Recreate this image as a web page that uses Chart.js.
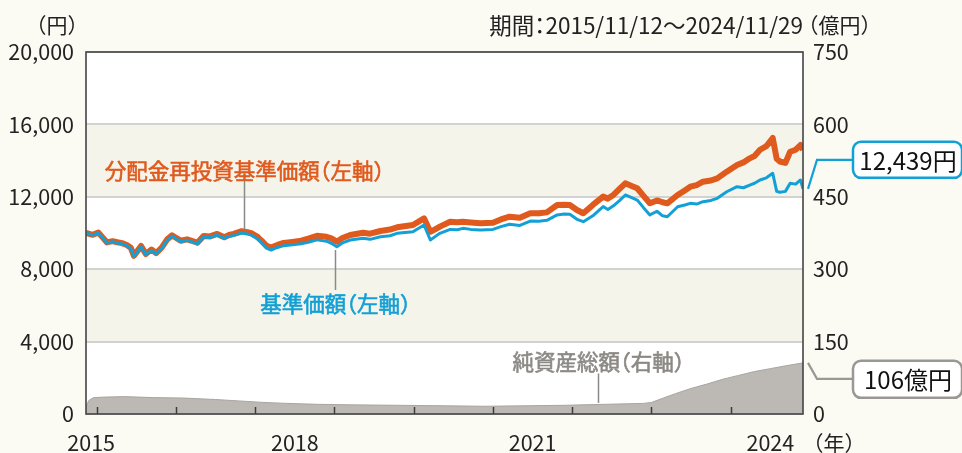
<!DOCTYPE html>
<html>
<head>
<meta charset="utf-8">
<script src="https://cdn.jsdelivr.net/npm/chart.js@4.4.1/dist/chart.umd.min.js"></script>
<style>
  html, body { margin:0; padding:0; background:#fbfaf3; }
  #wrap { width:962px; height:453px; }
</style>
</head>
<body>
<div id="wrap"><canvas id="chart" width="962" height="453"></canvas></div>
<script>
/* ---------- data ---------- */
const dates = [
  2015.865, 2015.95, 2016.02, 2016.08, 2016.13, 2016.20, 2016.26, 2016.32, 2016.38, 2016.43,
  2016.47, 2016.52, 2016.56, 2016.62, 2016.69, 2016.75, 2016.82, 2016.89, 2016.95, 2017.00,
  2017.06, 2017.14, 2017.20, 2017.27, 2017.35, 2017.43, 2017.52, 2017.61, 2017.67, 2017.73,
  2017.83, 2017.90, 2017.95, 2018.02, 2018.08, 2018.14, 2018.20, 2018.28, 2018.36, 2018.47,
  2018.58, 2018.68, 2018.78, 2018.90, 2018.96, 2019.03, 2019.10, 2019.20, 2019.36, 2019.45,
  2019.58, 2019.70, 2019.79, 2019.99, 2020.13, 2020.21, 2020.27, 2020.33, 2020.46, 2020.55,
  2020.62, 2020.72, 2020.84, 2021.00, 2021.10, 2021.21, 2021.34, 2021.47, 2021.58, 2021.68,
  2021.81, 2021.90, 2021.97, 2022.06, 2022.14, 2022.26, 2022.39, 2022.45, 2022.52, 2022.60,
  2022.67, 2022.75, 2022.82, 2022.90, 2022.98, 2023.07, 2023.14, 2023.20, 2023.33, 2023.42,
  2023.49, 2023.57, 2023.65, 2023.75, 2023.83, 2023.95, 2024.08, 2024.16, 2024.24, 2024.30,
  2024.37, 2024.45, 2024.53, 2024.58, 2024.62, 2024.69, 2024.75, 2024.82, 2024.88, 2024.912
];
// 基準価額（円）
const nav = [
  10000, 9880, 10000, 9700, 9450, 9520, 9450, 9400, 9300, 9150,
  8700, 9000, 9240, 8800, 9050, 8850, 9150, 9610, 9830, 9700,
  9520, 9600, 9520, 9400, 9780, 9750, 9890, 9700, 9820, 9870,
  10000, 9950, 9880, 9700, 9450, 9170, 9060, 9200, 9300, 9350,
  9400, 9500, 9620, 9550, 9430, 9245, 9450, 9613, 9706, 9650,
  9797, 9850, 9983, 10070, 10440, 9613, 9800, 9983, 10200, 10180,
  10257, 10200, 10166, 10200, 10350, 10480, 10420, 10660, 10650, 10700,
  11000, 11050, 11030, 10757, 10625, 10950, 11460, 11300, 11500, 11800,
  12100, 11950, 11820, 11400, 11000, 11200, 10950, 10900, 11450, 11550,
  11640, 11600, 11730, 11800, 11915, 12280, 12560, 12500, 12650, 12750,
  12930, 13050, 13300, 12300, 12250, 12300, 12745, 12700, 12930, 12439
];
// 分配金再投資基準価額（円）
const navReinv = [
  10000, 9900, 10030, 9730, 9480, 9550, 9490, 9440, 9340, 9190,
  8740, 9040, 9280, 8840, 9090, 8890, 9190, 9650, 9870, 9740,
  9570, 9650, 9570, 9460, 9840, 9810, 9950, 9770, 9890, 9950,
  10100, 10050, 9990, 9820, 9580, 9300, 9200, 9340, 9450, 9510,
  9580, 9700, 9850, 9790, 9706, 9520, 9720, 9890, 10017, 9960,
  10110, 10190, 10315, 10440, 10810, 10070, 10200, 10350, 10625, 10600,
  10625, 10580, 10534, 10560, 10750, 10900, 10840, 11090, 11090, 11140,
  11550, 11560, 11550, 11270, 11090, 11550, 12010, 11900, 12100, 12450,
  12745, 12600, 12470, 12050, 11640, 11800, 11700, 11640, 12100, 12350,
  12560, 12650, 12835, 12900, 13020, 13390, 13760, 13900, 14125, 14250,
  14600, 14800, 15250, 14100, 13950, 13870, 14490, 14600, 14860, 14600
];
// 純資産総額（億円）
const assetDates = [
  2015.865, 2015.90, 2015.96, 2016.10, 2016.35, 2016.70, 2017.10, 2017.50, 2017.80, 2018.10,
  2018.40, 2018.80, 2019.20, 2019.80, 2020.40, 2020.90, 2021.40, 2021.90, 2022.40, 2022.90,
  2023.00, 2023.15, 2023.30, 2023.50, 2023.70, 2023.90, 2024.10, 2024.30, 2024.50, 2024.70, 2024.912
];
const netAssets = [
  15, 28, 34, 35, 36, 34, 33, 30, 27, 24,
  22, 20, 19, 18, 17, 16, 17, 18, 20, 22,
  24, 33, 42, 53, 62, 72, 80, 88, 94, 100, 106
];

const yearTicks   = [2016, 2017, 2018, 2019, 2020, 2021, 2022, 2023, 2024];
const yearLabels  = ['2015', '2018', '2021', '2024'];
const yearLabelAt = [2015.93, 2018.5, 2021.5, 2024.5];

const periodText  = '期間：2015/11/12～2024/11/29';
const lastNavText = '12,439円';
const lastAsset   = 106;
const lastAsText  = '106億円';

/* ---------- colours ---------- */
const ORANGE = '#e05a1e';
const BLUE   = '#13a0d6';
const GRAYTX = '#8c8985';
const INK    = '#222';
const FONT   = '"Noto Sans CJK JP", "Noto Sans", sans-serif';

// palt風：括弧・コロンを半角幅で詰める
function jp(ctx, s, x, y, align, heavy) {
  const parts = [];
  let run = '';
  for (const ch of s) {
    if ('（）：'.includes(ch)) {
      if (run) parts.push({t: run});
      run = '';
      parts.push({t: ch, half: true});
    } else run += ch;
  }
  if (run) parts.push({t: run});
  let total = 0;
  parts.forEach(p => {
    p.w = ctx.measureText(p.t).width;
    p.adv = p.half ? p.w / 2 : p.w;
    total += p.adv;
  });
  let cx = align === 'right' ? x - total : align === 'center' ? x - total / 2 : x;
  ctx.textAlign = 'left';
  ctx.textBaseline = 'middle';
  parts.forEach(p => {
    let off = 0;
    if (p.t === '（') off = -p.w / 2;
    else if (p.t === '：') off = -p.w / 4;
    ctx.fillText(p.t, cx + off, y);
    if (heavy) ctx.strokeText(p.t, cx + off, y);
    cx += p.adv;
  });
}

function roundRect(ctx, x, y, w, h, r) {
  ctx.beginPath();
  ctx.moveTo(x + r, y);
  ctx.lineTo(x + w - r, y);
  ctx.arcTo(x + w, y, x + w, y + r, r);
  ctx.lineTo(x + w, y + h - r);
  ctx.arcTo(x + w, y + h, x + w - r, y + h, r);
  ctx.lineTo(x + r, y + h);
  ctx.arcTo(x, y + h, x, y + h - r, r);
  ctx.lineTo(x, y + r);
  ctx.arcTo(x, y, x + r, y, r);
  ctx.closePath();
}

/* ---------- plugins ---------- */
const bands = {
  id: 'bands',
  beforeDraw(chart) {
    const {ctx, chartArea: a, scales: {y}} = chart;
    ctx.save();
    ctx.fillStyle = '#fbfaf3';
    ctx.fillRect(0, 0, chart.width, chart.height);
    ctx.fillStyle = '#fff';
    ctx.fillRect(a.left, a.top, a.right - a.left, a.bottom - a.top);
    ctx.fillStyle = '#f5f4ea';
    [[4000, 8000], [12000, 16000]].forEach(([lo, hi]) => {
      const t = y.getPixelForValue(hi), b = y.getPixelForValue(lo);
      ctx.fillRect(a.left, t, a.right - a.left, b - t);
    });
    ctx.restore();
  }
};

const frame = {
  id: 'frame',
  afterDatasetsDraw(chart) {
    const {ctx, chartArea: a, scales: {x}} = chart;
    ctx.save();
    ctx.strokeStyle = '#3c3c3c';
    ctx.lineWidth = 1.5;
    yearTicks.forEach(v => {
      const px = Math.round(x.getPixelForValue(v)) + 0.5;
      ctx.beginPath();
      ctx.moveTo(px, a.bottom);
      ctx.lineTo(px, a.bottom - 7);
      ctx.stroke();
    });
    ctx.strokeStyle = '#444';
    ctx.lineWidth = 1.6;
    ctx.strokeRect(a.left, a.top, a.right - a.left, a.bottom - a.top);
    ctx.restore();
  }
};

const notes = {
  id: 'notes',
  afterDraw(chart) {
    const {ctx, chartArea: a, scales: {x, y, y1}} = chart;
    ctx.save();
    ctx.fillStyle = INK;
    ctx.font = '21px ' + FONT;
    jp(ctx, '（円）', a.left - 8, 25, 'right');
    jp(ctx, '（億円）', a.right + 5, 25, 'left');
    jp(ctx, '（年）', a.right + 10, 443, 'left');
    ctx.font = '22.5px ' + FONT;
    jp(ctx, periodText, a.right, 25, 'right');

    // leader lines
    ctx.strokeStyle = '#8a8a8a';
    ctx.lineWidth = 1.5;
    const lead = (xv, p0, p1) => {
      const px = Math.round(x.getPixelForValue(xv)) + 0.5;
      ctx.beginPath(); ctx.moveTo(px, p0); ctx.lineTo(px, p1); ctx.stroke();
      return px;
    };
    const ox = lead(2017.86, y.getPixelForValue(12870), y.getPixelForValue(10200));
    const bx = lead(2019.01, y.getPixelForValue(9060), y.getPixelForValue(6850));
    const gx = lead(2022.33, y1.getPixelForValue(84), y1.getPixelForValue(23));

    ctx.font = '21.5px ' + FONT;
    ctx.lineWidth = 0.6;
    ctx.fillStyle = ORANGE; ctx.strokeStyle = ORANGE;
    jp(ctx, '分配金再投資基準価額（左軸）', ox, y.getPixelForValue(13450), 'center', true);
    ctx.fillStyle = BLUE; ctx.strokeStyle = BLUE;
    jp(ctx, '基準価額（左軸）', bx, y.getPixelForValue(6100), 'center', true);
    ctx.fillStyle = GRAYTX; ctx.strokeStyle = GRAYTX;
    jp(ctx, '純資産総額（右軸）', gx, y1.getPixelForValue(109), 'center', true);

    // callouts
    const bxL = a.right + 50, bxW = chart.width - bxL;
    const navY = y.getPixelForValue(nav[nav.length - 1]);
    ctx.strokeStyle = BLUE;
    ctx.lineWidth = 2.2;
    ctx.beginPath();
    ctx.moveTo(a.right + 5, navY);
    ctx.lineTo(a.right + 14, navY - 29);
    ctx.lineTo(bxL, navY - 29);
    ctx.stroke();
    roundRect(ctx, bxL, navY - 47, bxW, 36, 8);
    ctx.fillStyle = '#fff'; ctx.fill();
    ctx.lineWidth = 2.5; ctx.stroke();

    const asY = y1.getPixelForValue(lastAsset);
    ctx.strokeStyle = '#9a9794';
    ctx.lineWidth = 2.2;
    ctx.beginPath();
    ctx.moveTo(a.right + 5, asY);
    ctx.lineTo(a.right + 14, asY + 16);
    ctx.lineTo(bxL, asY + 16);
    ctx.stroke();
    roundRect(ctx, bxL, asY - 2, bxW, 37, 8);
    ctx.fillStyle = '#fff'; ctx.fill();
    ctx.lineWidth = 2.5; ctx.stroke();

    ctx.font = '24px ' + FONT;
    ctx.fillStyle = '#111';
    ctx.textAlign = 'center';
    ctx.textBaseline = 'middle';
    ctx.fillText(lastNavText, bxL + 55, navY - 28);
    ctx.fillText(lastAsText, bxL + 55, asY + 17);
    ctx.restore();
  }
};

/* ---------- chart ---------- */
const pts = (xs, ys) => xs.map((v, i) => ({x: v, y: ys[i]}));

new Chart(document.getElementById('chart'), {
  type: 'line',
  data: {
    datasets: [
      {
        label: '基準価額（左軸）',
        data: pts(dates, nav),
        borderColor: BLUE, borderWidth: 3,
        pointRadius: 0, tension: 0, borderJoinStyle: 'round',
        yAxisID: 'y', order: 1
      },
      {
        label: '分配金再投資基準価額（左軸）',
        data: pts(dates, navReinv),
        borderColor: ORANGE, borderWidth: 6,
        pointRadius: 0, tension: 0, borderJoinStyle: 'round',
        yAxisID: 'y', order: 2
      },
      {
        label: '純資産総額（右軸）',
        data: pts(assetDates, netAssets),
        borderColor: '#a9a5a1', borderWidth: 1,
        backgroundColor: '#bcb9b4', fill: 'origin',
        pointRadius: 0, tension: 0,
        yAxisID: 'y1', order: 3
      }
    ]
  },
  options: {
    responsive: false,
    animation: false,
    devicePixelRatio: 1,
    layout: {padding: {top: 52, left: 0, right: 0, bottom: 0}},
    plugins: {legend: {display: false}, tooltip: {enabled: false}},
    scales: {
      x: {
        type: 'linear', position: 'bottom',
        min: dates[0], max: dates[dates.length - 1],
        afterFit: s => { s.height = 39; },
        afterBuildTicks: s => { s.ticks = yearLabelAt.map(v => ({value: v})); },
        grid: {display: false, drawTicks: false},
        border: {display: false},
        ticks: {
          autoSkip: false, maxRotation: 0, padding: 16,
          color: INK, font: {family: FONT, size: 21.5},
          callback: (v, i) => yearLabels[i]
        }
      },
      y: {
        position: 'left', min: 0, max: 20000,
        afterFit: s => { s.width = 86; },
        grid: {color: '#d2d2d0', lineWidth: 2, drawTicks: false},
        border: {display: false},
        ticks: {
          stepSize: 4000, padding: 12, color: INK,
          font: {family: FONT, size: 21.5},
          callback: v => v.toLocaleString('en-US')
        }
      },
      y1: {
        position: 'right', min: 0, max: 750,
        afterFit: s => { s.width = 159; },
        grid: {display: false, drawTicks: false},
        border: {display: false},
        ticks: {
          stepSize: 150, padding: 10, color: INK,
          font: {family: FONT, size: 21.5}
        }
      }
    }
  },
  plugins: [bands, frame, notes]
});
</script>
</body>
</html>
